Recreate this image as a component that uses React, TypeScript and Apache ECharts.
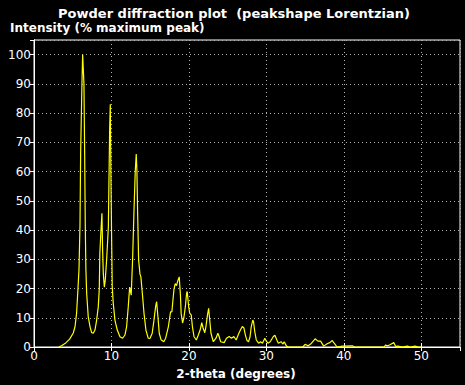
import React, { useEffect, useRef } from "react";
import * as echarts from "echarts";

const titleText = "Powder diffraction plot  (peakshape Lorentzian)";
const yAxisTitle = "Intensity (% maximum peak)";
const xAxisTitle = "2-theta (degrees)";

// 2-theta (degrees)
const twoTheta: number[] = [
  3.2, 3.6, 4.1, 4.6, 5.07, 5.3, 5.5, 5.68, 5.81, 5.94, 6.02, 6.19, 6.28, 6.45, 6.54, 6.62, 6.7, 6.8, 7.0, 7.23,
  7.44, 7.65, 7.87, 8.09, 8.3, 8.43, 8.5, 8.65, 8.77, 8.86, 8.95, 9.08, 9.2, 9.38, 9.6, 9.68, 9.77, 9.85, 9.94, 10.02,
  10.1, 10.23, 10.45, 10.75, 11.1, 11.44, 11.74, 11.96, 12.17, 12.35, 12.55, 12.73, 12.9, 13.07, 13.2, 13.29, 13.38, 13.51, 13.68, 13.8,
  14.03, 14.2, 14.45, 14.75, 14.97, 15.26, 15.48, 15.7, 15.83, 16.0, 16.17, 16.4, 16.75, 17.0, 17.35, 17.63, 17.8, 18.06, 18.23, 18.4,
  18.55, 18.75, 18.9, 19.0, 19.18, 19.35, 19.55, 19.7, 19.78, 19.96, 20.1, 20.3, 20.45, 20.66, 20.96, 21.2, 21.45, 21.66, 21.83, 22.05,
  22.2, 22.4, 22.55, 22.7, 22.85, 23.15, 23.5, 23.74, 23.9, 24.1, 24.55, 24.85, 25.2, 25.5, 25.8, 26.1, 26.45, 26.65, 26.9, 27.1,
  27.3, 27.5, 27.7, 27.9, 28.05, 28.25, 28.35, 28.5, 28.7, 29.0, 29.25, 29.5, 29.8, 29.95, 30.2, 30.5, 30.9, 31.1, 31.35, 31.55,
  31.9, 32.15, 32.3, 32.6, 32.85, 34.7, 35.0, 35.4, 35.8, 36.3, 36.65, 37.0, 37.4, 37.9, 38.2, 38.5, 38.75, 39.05, 39.2, 39.8,
  41.1, 41.4, 45.2, 45.4, 45.6, 45.9, 46.45, 46.7, 47.0, 47.5, 48.2, 48.6, 49.2, 49.6, 50.0,
];

// Intensity (% maximum peak)
const intensity: number[] = [
  0, 0.5, 1.4, 2.7, 4.8, 7, 11.6, 20, 26.6, 42, 66, 90, 100, 90, 66, 42, 26.6, 18.4, 10.4, 7,
  4.9, 4.7, 5.8, 9.2, 13.8, 20, 32, 40, 45.7, 33, 25, 20.5, 22.8, 30, 41, 57, 75, 83, 57, 37.6,
  20.6, 15, 9.2, 5.8, 3.5, 3.0, 4.1, 7, 13.8, 20.5, 17.7, 30, 45.7, 60, 66, 60, 45.7, 29.7, 25, 24,
  17, 11.6, 5.8, 3, 2.9, 4.7, 9, 13.8, 15.5, 10.4, 4.7, 2.5, 1.8, 3, 7, 12, 12, 19.5, 21.7, 21,
  22.5, 24, 18, 11.5, 8.2, 10, 14, 18.3, 19, 14, 11.6, 11, 7, 3.5, 2.4, 4, 5.8, 8.3, 6.5, 4.9,
  7, 11, 13.2, 8.9, 4.7, 1.8, 3, 4.7, 3.6, 1.8, 1.5, 3, 3.6, 3, 3.6, 2.4, 4.7, 5.8, 7, 6.5,
  4, 2.2, 1.8, 3.6, 7, 9.2, 8.6, 5.3, 2.4, 1.3, 1.8, 1.3, 3, 2.2, 1.3, 1.8, 3.6, 4, 2.4, 1.3,
  1.8, 1, 1.8, 0.3, 0, 0, 0.9, 0.4, 1.2, 2.8, 2, 2, 0.3, 1.2, 1.5, 2.2, 1.3, 0.3, 0, 0.3,
  0.4, 0, 0, 0.7, 0.4, 0.7, 1.5, 0.2, 0.3, 0, 0.3, 0, 0.3, 0, 0,
];

const xTicks = [0, 10, 20, 30, 40, 50];
const yTicks = [0, 10, 20, 30, 40, 50, 60, 70, 80, 90, 100];

export default function App() {
  const ref = useRef<HTMLDivElement>(null);
  useEffect(() => {
    if (!ref.current) return;
    const chart = echarts.init(ref.current, null, { renderer: "svg" });
    const font = "DejaVu Sans";
    const data = twoTheta.map((x, i) => [x, intensity[i]]);
    const gridLine = { show: true, lineStyle: { color: "#b0b0b0", type: [1, 3] as any, width: 1 } };
    chart.setOption({
      animation: false,
      backgroundColor: "#000000",
      grid: { left: 34, right: 5, top: 40, bottom: 38, show: true, borderColor: "#ffffff", borderWidth: 1, backgroundColor: "transparent" },
      xAxis: [
        {
          type: "value", min: 0, max: 55, interval: 10, position: "bottom",
          axisLine: { show: true, lineStyle: { color: "#ffffff", width: 1 } },
          axisTick: { show: true, inside: true, length: 4, lineStyle: { color: "#ffffff" } },
          axisLabel: { color: "#ffffff", fontFamily: font, fontSize: 12, margin: 3, showMaxLabel: false,
            formatter: (v: number) => (xTicks.includes(v) ? String(v) : "") },
          splitLine: gridLine,
        },
        {
          type: "value", min: 0, max: 55, interval: 10, position: "top",
          axisLine: { show: true, lineStyle: { color: "#ffffff", width: 1 } },
          axisTick: { show: true, inside: true, length: 4, lineStyle: { color: "#ffffff" } },
          axisLabel: { show: false },
          splitLine: { show: false },
        },
      ],
      yAxis: [
        {
          type: "value", min: 0, max: 105, interval: 10, position: "left",
          axisLine: { show: true, lineStyle: { color: "#ffffff", width: 1 } },
          axisTick: { show: true, inside: false, length: 3, lineStyle: { color: "#ffffff" } },
          axisLabel: { color: "#ffffff", fontFamily: font, fontSize: 12, margin: 3, showMaxLabel: false,
            formatter: (v: number) => (yTicks.includes(v) ? String(v) : "") },
          splitLine: gridLine,
        },
        {
          type: "value", min: 0, max: 105, interval: 10, position: "right",
          axisLine: { show: true, lineStyle: { color: "#ffffff", width: 1 } },
          axisTick: { show: true, inside: true, length: 4, lineStyle: { color: "#ffffff" } },
          axisLabel: { show: false },
          splitLine: { show: false },
        },
      ],
      graphic: [
        { type: "text", x: 234, y: 13, style: { text: titleText, fill: "#ffffff", font: `bold 13px "${font}"`, textAlign: "center", textVerticalAlign: "middle" } },
        { type: "text", left: 10, top: 22, style: { text: yAxisTitle, fill: "#ffffff", font: `bold 12px "${font}"` } },
        { type: "text", x: 236, y: 374, style: { text: xAxisTitle, fill: "#ffffff", font: `bold 12px "${font}"`, textAlign: "center", textVerticalAlign: "middle" } },
      ],
      series: [
        {
          type: "line", data, xAxisIndex: 0, yAxisIndex: 0, showSymbol: false, symbol: "none",
          lineStyle: { color: "#ffff00", width: 1.2 }, silent: true,
        },
      ],
    });
    return () => chart.dispose();
  }, []);
  return <div ref={ref} style={{ position: "fixed", left: 0, top: 0, width: 465, height: 385 }} />;
}
